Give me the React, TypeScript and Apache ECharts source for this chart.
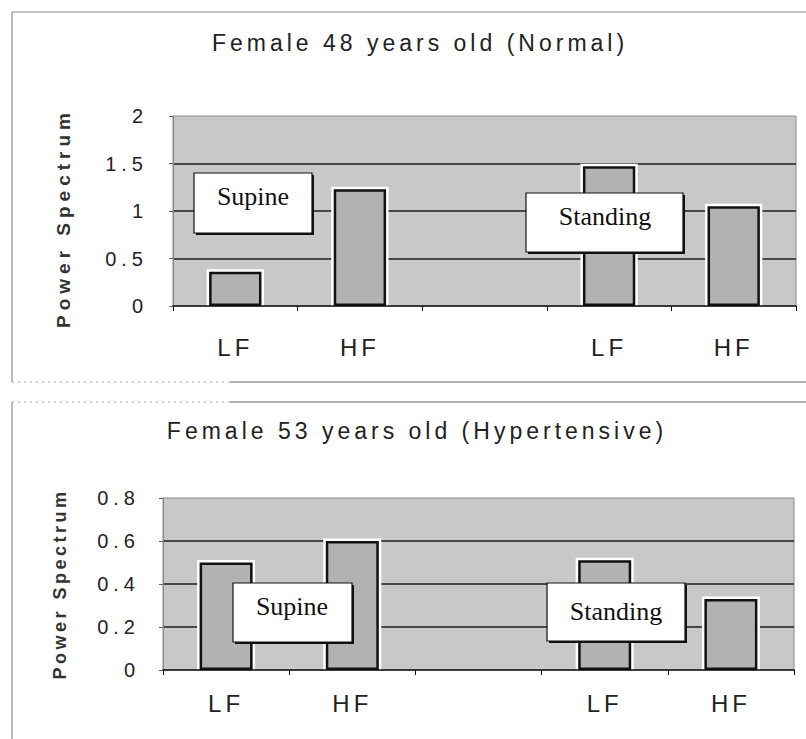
import React, { useEffect, useRef } from 'react';
import * as echarts from 'echarts';

// ---- data ----
const categories = ['LF', 'HF', '', 'LF', 'HF'];
const normalValues: (number | string)[] = [0.36, 1.23, '-', 1.47, 1.05];
const hyperValues: (number | string)[] = [0.5, 0.6, '-', 0.51, 0.33];
const normalAxis = { min: 0, max: 2, interval: 0.5 };
const hyperAxis = { min: 0, max: 0.8, interval: 0.2 };
const titles = ['Female 48 years old (Normal)', 'Female 53 years old (Hypertensive)'];
const yName = 'Power Spectrum';
const boxLabels = ['Supine', 'Standing'];

const SANS = "'Liberation Sans', Arial, Helvetica, sans-serif";
const SERIF = "'Liberation Serif', 'Times New Roman', serif";
const BAR_RATIO = 0.42;

const css = `
#chart-root text[style*="23px"] { letter-spacing: 4px; }
#chart-root text[style*="20px"] { letter-spacing: 5px; }
#chart-root text[style*="19px"] { letter-spacing: 5px; }
#chart-root text[style*="18px"] { letter-spacing: 3.5px; }
#chart-root text[style*="24px"] { letter-spacing: 4px; }
`;

function box(x: number, y: number, w: number, h: number, label: string, tx: number, ty: number) {
  return [
    { type: 'rect', z: 50, shape: { x: x + 2, y: y + 2, width: w, height: h }, style: { fill: '#111' } },
    { type: 'rect', z: 51, shape: { x, y, width: w, height: h }, style: { fill: '#fff', stroke: '#111', lineWidth: 1.2 } },
    {
      type: 'text', z: 52, x: tx, y: ty,
      style: { text: label, fontSize: 26, fontFamily: SERIF, fill: '#111', align: 'center', verticalAlign: 'middle' },
    },
  ];
}

function line(x1: number, y1: number, x2: number, y2: number, color: string, dash?: number[]) {
  return {
    type: 'line', z: 40,
    shape: { x1, y1, x2, y2 },
    style: { stroke: color, lineWidth: 1, lineDash: dash || null },
  };
}

export default function App() {
  const ref = useRef<HTMLDivElement>(null);
  useEffect(() => {
    if (!ref.current) return;
    const chart = echarts.init(ref.current, undefined, { renderer: 'svg' });

    const xAxisFor = (i: number) => ({
      type: 'category',
      gridIndex: i,
      data: categories,
      z: 10,
      axisLine: { show: true, lineStyle: { color: '#111', width: 1.5 } },
      axisTick: { show: true, length: 5, lineStyle: { color: '#111', width: 1 } },
      axisLabel: { interval: 0, margin: i === 0 ? 29 : 21, fontSize: 24, fontFamily: SANS, color: '#222' },
      splitLine: { show: false },
    });

    const yAxisFor = (i: number, ax: { min: number; max: number; interval: number }) => ({
      type: 'value',
      gridIndex: i,
      min: ax.min,
      max: ax.max,
      interval: ax.interval,
      axisLine: { show: true, lineStyle: { color: '#888', width: 1 } },
      axisTick: { show: true, length: 4, lineStyle: { color: '#666' } },
      axisLabel: { margin: i === 0 ? 25 : 23, fontSize: 20, fontFamily: SANS, color: '#222' },
      splitLine: {
        show: true,
        showMinLine: false,
        showMaxLine: false,
        lineStyle: { color: '#1c1c1c', width: 1.5 },
      },
    });

    const haloData = (data: (number | string)[]) =>
      data.map((v, idx) => [idx, v]).filter((d) => typeof d[1] === 'number');

    const barPair = (i: number, data: (number | string)[]) => [
      {
        type: 'custom', xAxisIndex: i, yAxisIndex: i, data: haloData(data), silent: true, z: 2,
        encode: { x: 0, y: 1 },
        renderItem: (_params: any, api: any) => {
          const x = api.value(0);
          const v = api.value(1);
          const top = api.coord([x, v]);
          const base = api.coord([x, 0]);
          const w = api.size([1, 0])[0] * BAR_RATIO;
          const pad = 2.5;
          return {
            type: 'rect',
            shape: { x: top[0] - w / 2 - pad, y: top[1] - pad, width: w + 2 * pad, height: base[1] - top[1] + pad },
            style: { fill: '#ffffff' },
          };
        },
      },
      {
        type: 'bar', xAxisIndex: i, yAxisIndex: i, data,
        barWidth: BAR_RATIO * 100 + '%', z: 3,
        itemStyle: { color: '#b2b2b2', borderColor: '#111', borderWidth: 2.5 },
      },
    ];

    const option: any = {
      animation: false,
      backgroundColor: '#ffffff',
      grid: [
        { left: 173, top: 116, width: 623, height: 190, show: true, backgroundColor: '#c8c8c8', borderColor: '#8a8a8a', borderWidth: 1 },
        { left: 163, top: 498, width: 631, height: 172, show: true, backgroundColor: '#c8c8c8', borderColor: '#8a8a8a', borderWidth: 1 },
      ],
      xAxis: [xAxisFor(0), xAxisFor(1)],
      yAxis: [yAxisFor(0, normalAxis), yAxisFor(1, hyperAxis)],
      series: [...barPair(0, normalValues), ...barPair(1, hyperValues)],
      graphic: [
        // frames
        line(12, 12, 806, 12, '#888'),
        line(12, 12, 12, 382, '#777'),
        line(12, 382, 230, 382, '#aaa', [2, 4]),
        line(230, 382, 806, 382, '#666'),
        line(12, 402, 230, 402, '#aaa', [2, 4]),
        line(230, 402, 806, 402, '#666'),
        line(12, 402, 12, 739, '#777'),
        // titles
        {
          type: 'text', z: 45, x: 420, y: 43,
          style: { text: titles[0], fontSize: 23, fontFamily: SANS, fill: '#222', align: 'center', verticalAlign: 'middle' },
        },
        {
          type: 'text', z: 45, x: 417, y: 431,
          style: { text: titles[1], fontSize: 23, fontFamily: SANS, fill: '#222', align: 'center', verticalAlign: 'middle' },
        },
        // y axis names
        {
          type: 'text', z: 45, x: 63, y: 218, rotation: Math.PI / 2,
          style: { text: yName, fontSize: 19, fontWeight: 'bold', fontFamily: SANS, fill: '#333', align: 'center', verticalAlign: 'middle' },
        },
        {
          type: 'text', z: 45, x: 60, y: 584, rotation: Math.PI / 2,
          style: { text: yName, fontSize: 18, fontWeight: 'bold', fontFamily: SANS, fill: '#333', align: 'center', verticalAlign: 'middle' },
        },
        // annotation boxes
        ...box(194, 173, 118, 60, boxLabels[0], 253, 196),
        ...box(526, 193, 157, 59, boxLabels[1], 605, 216),
        ...box(233, 583, 119, 59, boxLabels[0], 292, 606),
        ...box(547, 583, 138, 58, boxLabels[1], 616, 611),
      ],
    };

    chart.setOption(option);
    return () => chart.dispose();
  }, []);

  return (
    <>
      <style>{css}</style>
      <div
        id="chart-root"
        ref={ref}
        style={{ position: 'absolute', left: 0, top: 0, width: 806, height: 739, background: '#fff' }}
      />
    </>
  );
}
